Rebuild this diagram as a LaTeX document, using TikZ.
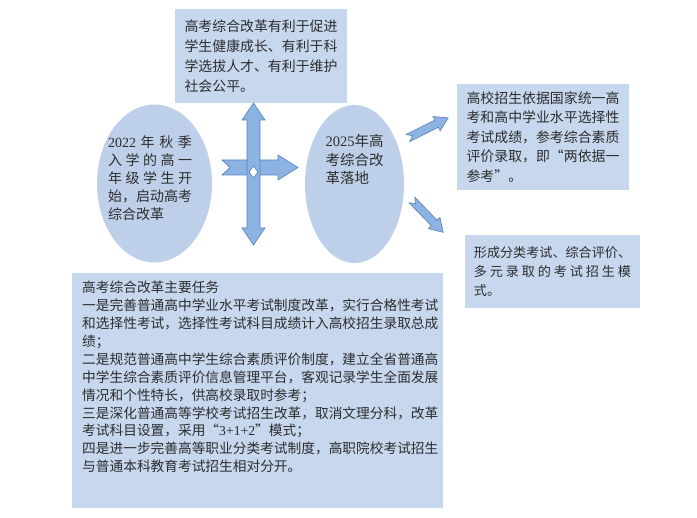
\documentclass[tikz,border=0pt]{standalone}
\usepackage{fontspec}
\setmainfont{Liberation Serif}
\newfontfamily\cjk{Noto Sans CJK SC}
\usepackage{tikz}
\usetikzlibrary{shapes.geometric, positioning, calc}
\definecolor{boxblue}{RGB}{198,215,238}
\definecolor{ellblue}{RGB}{190,208,233}
\definecolor{arrowblue}{RGB}{141,179,226}
\definecolor{arrowline}{RGB}{84,130,190}
\definecolor{textgray}{RGB}{45,45,45}
\tikzstyle{textbox} = [rectangle, fill=boxblue, inner sep=0pt, text=textgray, align=left]
\tikzstyle{bubble} = [ellipse, fill=ellblue, inner sep=0pt]
\tikzstyle{blockarrow} = [fill=arrowblue, draw=arrowline, line width=0.6pt, line join=miter]
\newcommand{\spread}[2]{\makebox[#1][s]{#2}}
\newcommand{\fq}[1]{{\addfontfeature{CharacterWidth=Full}#1}}
\tikzset{notcharrow/.pic={\filldraw[blockarrow] (0,-4) -- (32,-4) -- (32,-8) -- (45,0) -- (32,8) -- (32,4) -- (0,4) -- (5,0) -- cycle;}}

\begin{document}
\begin{tikzpicture}[x=1pt, y=-1pt]
    \useasboundingbox (0,0) rectangle (697,518);

    % Ellipses
    \node (e2022) [bubble, minimum width=115pt, minimum height=158pt] at (154.5,183.5) {};
    \node (e2025) [bubble, minimum width=99pt, minimum height=158pt] at (354.5,184) {};
    \node (t2022) [text=textgray, align=left, inner sep=0pt, font={\cjk\fontsize{14}{18}\selectfont}]
        at ([xshift=-4.5pt, yshift=5pt]e2022.center)
        {\spread{84pt}{{\rmfamily 2022} 年 秋 季}\\ \spread{84pt}{入 学 的 高 一}\\ \spread{84pt}{年 级 学 生 开}\\ 始，启动高考\\ 综合改革};
    \node (t2025) [text=textgray, align=left, inner sep=0pt, font={\cjk\fontsize{14.5}{18.5}\selectfont}]
        at ([yshift=24.5pt]e2025.center)
        {{\rmfamily 2025}年高\\ 考综合改\\ 革落地};

    % Text boxes
    \node (benefit) [textbox, minimum width=172pt, minimum height=94pt, font={\cjk\fontsize{13.9}{20}\selectfont}] at (261,56)
        {高考综合改革有利于促进\\ 学生健康成长、有利于科\\ 学选拔人才、有利于维护\\ 社会公平。};
    \node (basis) [textbox, minimum width=172pt, minimum height=106pt, font={\cjk\fontsize{13.9}{19.5}\selectfont}] at (543,137)
        {高校招生依据国家统一高\\ 考和高中学业水平选择性\\ 考试成绩，参考综合素质\\ 评价录取，即\fq{“}两依据一\\ 参考\fq{”}。};
    \node (mode) [textbox, minimum width=175pt, minimum height=73pt, font={\cjk\fontsize{13.1}{19}\selectfont}] at (552.5,271.5)
        {形成分类考试、综合评价、\\ \spread{157pt}{多 元 录 取 的 考 试 招 生 模}\\ 式。};
    \node (tasks) [textbox, minimum width=371pt, minimum height=235pt, anchor=north west] at (72,273) {};
    \node (taskstext) [text=textgray, align=left, inner sep=0pt, anchor=north west, font={\cjk\fontsize{13.7}{17.9}\selectfont}]
        at ([xshift=10pt, yshift=-8pt]tasks.north west)
        {高考综合改革主要任务\\
         一是完善普通高中学业水平考试制度改革，实行合格性考试\\
         和选择性考试，选择性考试科目成绩计入高校招生录取总成\\
         绩；\\
         二是规范普通高中学生综合素质评价制度，建立全省普通高\\
         中学生综合素质评价信息管理平台，客观记录学生全面发展\\
         情况和个性特长，供高校录取时参考；\\
         三是深化普通高等学校考试招生改革，取消文理分科，改革\\
         考试科目设置，采用\fq{“}{\rmfamily 3+1+2}\fq{”}模式；\\
         四是进一步完善高等职业分类考试制度，高职院校考试招生\\
         与普通本科教育考试招生相对分开。};

    % Cross arrows
    \filldraw[blockarrow] (222,160) -- (278,160) -- (278,155) -- (298,167.5) -- (278,180) -- (278,175) -- (222,175) -- (230,167.5) -- cycle;
    \filldraw[blockarrow] (253.5,103) -- (265,120) -- (260,120) -- (260,228) -- (265,228) -- (253.5,245)
        -- (242,228) -- (247,228) -- (247,120) -- (242,120) -- cycle;
    \filldraw[fill=white, draw=arrowline, line width=0.6pt] (253.5,166) -- (258,172) -- (253.5,178) -- (249,172) -- cycle;

    % Arrows to the right boxes
    \coordinate (up) at (408,138);
    \coordinate (down) at (412,200);
    \pic[rotate=26.6] at (up) {notcharrow};
    \pic[rotate=-46] at (down) {notcharrow};
\end{tikzpicture}
\end{document}
